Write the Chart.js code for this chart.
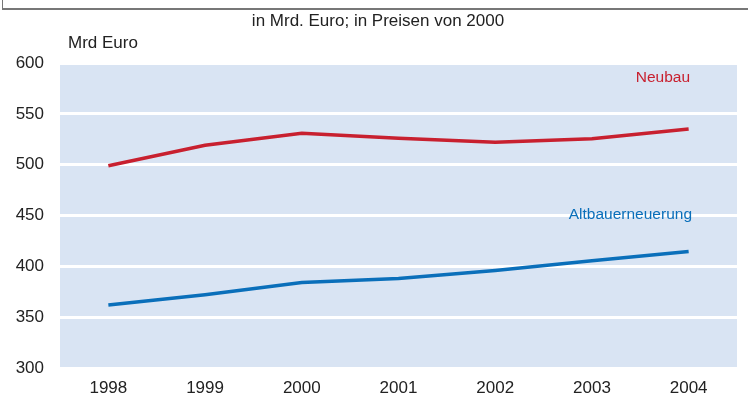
<html>
<head>
<style>
  body { margin: 0; background: #fff; }
  #wrap { position: relative; width: 748px; height: 401px; }
  #frame { position: absolute; left: 2px; top: 0; width: 746px; height: 10px; border-left: 1px solid #777; border-bottom: 2px solid #777; box-sizing: border-box; }
  canvas { position: absolute; left: 0; top: 0; }
</style>
</head>
<body>
<div id="wrap">
  <canvas id="chart" width="748" height="401"></canvas>
  <div id="frame"></div>
</div>
<script src="https://cdn.jsdelivr.net/npm/chart.js"></script>
<script>
var years = ['1998', '1999', '2000', '2001', '2002', '2003', '2004'];
var neubau = [499, 519, 531, 526, 522, 525.5, 535];
var altbau = [362, 372, 384, 388, 396, 405.5, 414.5];
var yTicks = [300, 350, 400, 450, 500, 550, 600];

var FONT = '"Liberation Sans", Arial, sans-serif';

// light blue plot background + free text labels
var decor = {
    id: 'decor',
    beforeDraw: function(chart) {
        var a = chart.chartArea, c = chart.ctx;
        c.save();
        c.fillStyle = '#d9e4f3';
        c.fillRect(a.left, a.top, a.right - a.left, a.bottom - a.top);
        c.restore();
    },
    afterDraw: function(chart) {
        var c = chart.ctx;
        c.save();
        c.textBaseline = 'middle';
        c.font = '17px ' + FONT;
        c.fillStyle = '#222';
        c.textAlign = 'center';
        c.fillText('in Mrd. Euro; in Preisen von 2000', 378, 21);
        c.textAlign = 'left';
        c.fillText('Mrd Euro', 68, 43);
        c.textAlign = 'right';
        c.font = '15.5px ' + FONT;
        c.fillStyle = '#c8202f';
        c.fillText('Neubau', 690, 78);
        c.fillStyle = '#0a6fba';
        c.fillText('Altbauerneuerung', 692, 215);
        c.restore();
    }
};

new Chart(document.getElementById('chart'), {
    type: 'line',
    data: {
        labels: years,
        datasets: [
            { label: 'Neubau', data: neubau, borderColor: '#c8202f', borderWidth: 3.5, pointRadius: 0, tension: 0 },
            { label: 'Altbauerneuerung', data: altbau, borderColor: '#0a6fba', borderWidth: 3.5, pointRadius: 0, tension: 0 }
        ]
    },
    options: {
        responsive: false,
        animation: false,
        layout: { padding: { top: 63, right: 11, left: 0, bottom: 0 } },
        plugins: { legend: { display: false }, tooltip: { enabled: false } },
        scales: {
            x: {
                offset: true,
                grid: { display: false },
                border: { display: false },
                ticks: { color: '#222', font: { size: 17, family: FONT }, padding: 2, maxRotation: 0 },
                afterFit: function(s) { s.height = 33; }
            },
            y: {
                min: 300, max: 600,
                afterBuildTicks: function(s) { s.ticks = yTicks.map(function(v) { return { value: v }; }); },
                grid: { color: '#fff', lineWidth: 3, drawTicks: false },
                border: { display: false },
                ticks: { color: '#222', font: { size: 17, family: FONT }, padding: 16 },
                afterFit: function(s) { s.width = 60; }
            }
        }
    },
    plugins: [decor]
});
</script>
</body>
</html>
